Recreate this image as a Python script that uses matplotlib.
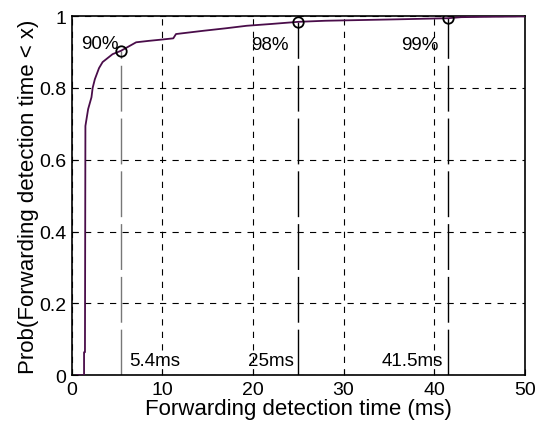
import matplotlib
matplotlib.use("Agg")
from matplotlib import pyplot as plt

# CDF of forwarding detection time
t_ms = [0.6, 1.35, 1.35, 1.45, 1.5, 1.8, 2.17, 2.3, 2.54, 3.0, 3.4, 4.5, 5.4,
        7.1, 8.5, 9.7, 11.2, 11.5, 14.5, 17.0, 19.3, 22.0, 25.0, 28.0, 32.0,
        36.0, 41.5, 43.0, 46.0, 50.0]
prob = [0.0, 0.0, 0.064, 0.064, 0.694, 0.741, 0.774, 0.80, 0.824, 0.855,
        0.872, 0.894, 0.903, 0.927, 0.931, 0.934, 0.938, 0.950, 0.959, 0.966,
        0.973, 0.978, 0.984, 0.987, 0.989, 0.991, 0.994, 0.997, 0.998, 0.999]

mark_x = [5.4, 25, 41.5]
mark_y = [0.903, 0.984, 0.994]
pct_labels = ["90%", "98%", "99%"]
ms_labels = ["5.4ms", "25ms", "41.5ms"]
line_cols = ["#777777", "black", "black"]

plt.rcParams['font.family'] = ['Liberation Sans', 'DejaVu Sans']
plt.rcParams['lines.scale_dashes'] = False

fig = plt.figure(figsize=(5.36, 4.27), dpi=100)
ax = fig.add_axes([0.134, 0.119, 0.845, 0.841])

ax.plot(t_ms, prob, color="#4a0d4a", lw=1.3, zorder=3)

for x, y, c in zip(mark_x, mark_y, line_cols):
    ax.plot([x, x], [0, y], color=c, lw=1.0, dashes=(33, 5), zorder=2)
ax.plot(mark_x, mark_y, "o", mfc="none", mec="black", ms=7.5, mew=1.3, zorder=4)

# percent labels near the markers, ms labels at the bottom
pct_pos = [(3.1, 0.925), (21.9, 0.92), (38.4, 0.92)]
ms_pos = [(9.2, 0.04), (22.0, 0.04), (37.6, 0.04)]
for (x, y), s in zip(pct_pos, pct_labels):
    ax.text(x, y, s, ha="center", va="center", fontsize=13.5)
for (x, y), s in zip(ms_pos, ms_labels):
    ax.text(x, y, s, ha="center", va="center", fontsize=13.5)

ax.set_xlim(0, 50)
ax.set_ylim(0, 1)
ax.set_xticks([0, 10, 20, 30, 40, 50])
ax.set_yticks([0, 0.2, 0.4, 0.6, 0.8, 1])
ax.set_yticklabels(["0", "0.2", "0.4", "0.6", "0.8", "1"])
ax.grid(True, color="black", linestyle=(0, (4.5, 4.5)), lw=0.8)
ax.tick_params(direction="in", length=4, labelsize=14, top=False, right=False)
ax.tick_params(axis="x", pad=4)
ax.tick_params(axis="y", pad=4)
for sp in ax.spines.values():
    sp.set_linewidth(1.2)

ax.set_xlabel("Forwarding detection time (ms)", fontsize=16, labelpad=0)
ax.set_ylabel("Prob(Forwarding detection time < x)", fontsize=16, labelpad=0)

fig.savefig("out.png", dpi=100)
